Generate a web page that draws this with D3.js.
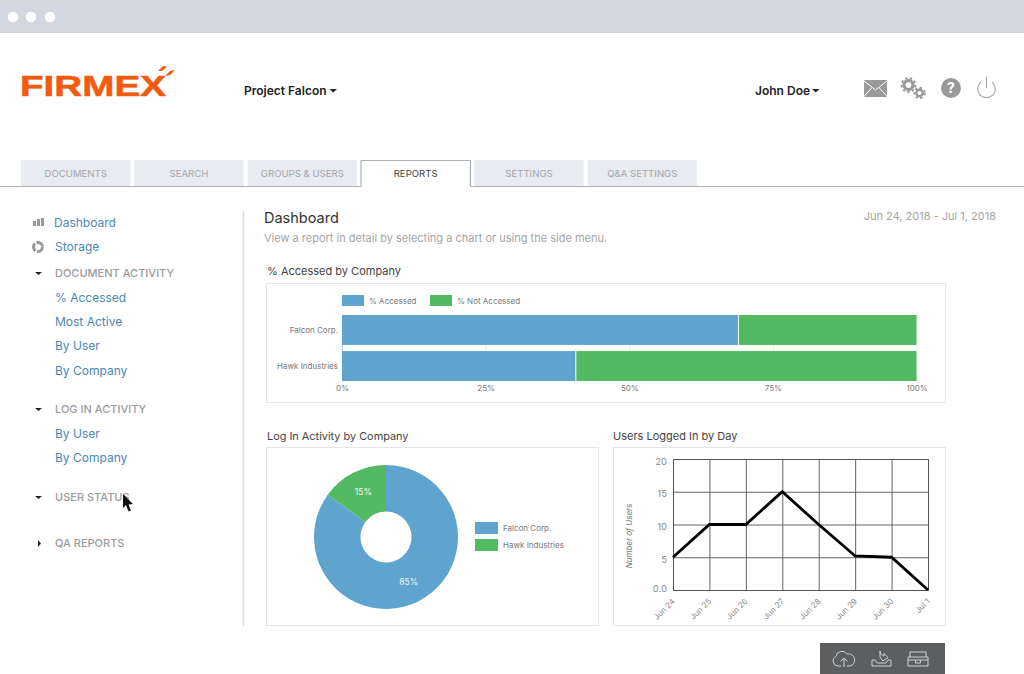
<!DOCTYPE html>
<html>
<head>
<meta charset="utf-8">
<script src="https://cdnjs.cloudflare.com/ajax/libs/d3/7.8.5/d3.min.js"></script>
<style>
    html, body { margin: 0; padding: 0; background: #fff; overflow: hidden; }
    svg { display: block; font-family: Inter, "Open Sans", sans-serif; }
</style>
</head>
<body>
<svg id="page" width="1024" height="674" viewBox="0 0 1024 674"></svg>
<script>
const BLUE = "#5fa3cf", GREEN = "#52ba62";

const tabs = ["DOCUMENTS", "SEARCH", "GROUPS & USERS", "REPORTS", "SETTINGS", "Q&A SETTINGS"];
const activeTab = "REPORTS";

const companies = ["Falcon Corp.", "Hawk Industries"];
const accessed = [69, 40.7];
const notAccessed = [31, 59.3];
const barLegend = ["% Accessed", "% Not Accessed"];
const barTicks = [0, 25, 50, 75, 100];

const loginShare = [85, 15];

const days = ["Jun 24", "Jun 25", "Jun 26", "Jun 27", "Jun 28", "Jun 29", "Jun 30", "Jul 1"];
const usersByDay = [5, 10, 10, 15, 10, 5.2, 5, 0];
const userTicks = [0, 5, 10, 15, 20];

const sideLinks = [["Dashboard", 54, 227], ["Storage", 55, 251], ["% Accessed", 55, 302], ["Most Active", 55, 326],
    ["By User", 55, 350], ["By Company", 55, 375], ["By User", 55, 438], ["By Company", 55, 462]];
const sideHeads = [["DOCUMENT ACTIVITY", 277, true], ["LOG IN ACTIVITY", 413, true], ["USER STATUS", 501, true], ["QA REPORTS", 547, false]];

const svg = d3.select("#page");

function label(g, x, y, txt, size, color, anchor, weight) {
    return g.append("text").attr("x", x).attr("y", y).text(txt)
        .attr("font-size", size).attr("fill", color)
        .attr("text-anchor", anchor || "start")
        .attr("font-weight", weight || 400);
}

// browser chrome
svg.append("rect").attr("width", 1024).attr("height", 33).attr("fill", "#d3d7df");
[13, 31, 50].forEach(x => svg.append("circle").attr("cx", x).attr("cy", 17).attr("r", 5.3).attr("fill", "#fff"));

// logo
const logo = svg.append("g").attr("fill", "#f15a0f");
logo.append("text").attr("x", 20).attr("y", 96).text("FIRMEX")
    .attr("font-family", "Liberation Sans").attr("font-weight", 700).attr("font-size", 29)
    .attr("stroke", "#f15a0f").attr("stroke-width", 0.5)
    .attr("textLength", 146).attr("lengthAdjust", "spacingAndGlyphs");
logo.append("path").attr("d", "M158 71 L163 66 L167 66.5 L162 71 Z");
logo.append("path").attr("d", "M165 76 L170 71 L175 70 L170 75 Z");
logo.append("path").attr("d", "M155 80 L159 76 L163 76 L158 80 Z");

// header
label(svg, 244, 95, "Project Falcon", 12, "#222", "start", 600);
label(svg, 755, 95, "John Doe", 12, "#222", "start", 600);
[[329.5, 89], [812, 89]].forEach(p => svg.append("path")
    .attr("d", `M${p[0]} ${p[1]} h7.5 l-3.75 3.5 Z`).attr("fill", "#222"));

const icons = svg.append("g").attr("fill", "#999");
icons.append("rect").attr("x", 864).attr("y", 80).attr("width", 23).attr("height", 17).attr("rx", 1);
icons.append("path").attr("d", "M864 81 L875.5 90 L887 81 M864 96.5 L872 87.5 M887 96.5 L879 87.5")
    .attr("fill", "none").attr("stroke", "#fff").attr("stroke-width", 1);
[[908.5, 85, 4.5, 3.2], [919.5, 93, 3.2, 2.4]].forEach(g => {
    icons.append("circle").attr("cx", g[0]).attr("cy", g[1]).attr("r", g[2]).attr("fill", "none")
        .attr("stroke", "#999").attr("stroke-width", g[3]);
    icons.append("circle").attr("cx", g[0]).attr("cy", g[1]).attr("r", g[2] + g[3] / 2 + 0.8).attr("fill", "none")
        .attr("stroke", "#999").attr("stroke-width", 2).attr("stroke-dasharray", "2.4 2.4");
});
icons.append("circle").attr("cx", 951).attr("cy", 88).attr("r", 10);
label(svg, 951, 93, "?", 14, "#fff", "middle", 700);
icons.append("path").attr("d", "M981 82 A8.8 8.8 0 1 0 992 82 M986.5 77 V88")
    .attr("fill", "none").attr("stroke", "#aaa").attr("stroke-width", 1.2);

// tabs
const tabX = d3.scaleBand().domain(tabs).range([21, 697]).paddingInner(0.035).paddingOuter(0);
svg.append("line").attr("x1", 0).attr("x2", 1024).attr("y1", 186.5).attr("y2", 186.5).attr("stroke", "#aeb1b5").attr("stroke-width", 1.2);
tabs.forEach(t => {
    const on = t === activeTab;
    svg.append("rect").attr("x", tabX(t)).attr("y", on ? 160.5 : 160).attr("width", tabX.bandwidth()).attr("height", on ? 27 : 26)
        .attr("fill", on ? "#fff" : "#e8ebf0");
    if (on) {
        svg.append("path").attr("d", `M${tabX(t)} 186.5 V160.5 H${tabX(t) + tabX.bandwidth()} V186.5`)
            .attr("fill", "none").attr("stroke", "#aeb1b5").attr("stroke-width", 1.2);
    }
    label(svg, tabX(t) + tabX.bandwidth() / 2, 177, t, 9.6, on ? "#444" : "#a3a6ab", "middle");
});

// side menu
sideLinks.forEach(d => label(svg, d[1], d[2], d[0], 12, "#4a88b5"));
sideHeads.forEach(d => {
    label(svg, 55, d[1], d[0], 11, "#9b9b9b", "start", 500);
    const y = d[1] - 4;
    svg.append("path").attr("fill", "#222")
        .attr("d", d[2] ? `M35 ${y - 1} h7 l-3.5 3 Z` : `M38 ${y - 3} v7 l3 -3.5 Z`);
});
[[33, 5], [37, 7], [41, 8]].forEach(b => svg.append("rect").attr("x", b[0]).attr("y", 226 - b[1])
    .attr("width", 3).attr("height", b[1]).attr("fill", "#999"));
svg.append("circle").attr("cx", 38).attr("cy", 247).attr("r", 4.5).attr("fill", "none")
    .attr("stroke", "#999").attr("stroke-width", 3).attr("stroke-dasharray", "8 1.5");
svg.append("line").attr("x1", 243.5).attr("x2", 243.5).attr("y1", 211).attr("y2", 626).attr("stroke", "#dcdcdc").attr("stroke-width", 1.5);
svg.append("path").attr("d", "M123 494 L123 508 L126 505 L128.5 511.5 L131 510.5 L128.5 504.5 L133 504 Z").attr("fill", "#111");

// page headings
label(svg, 264, 223, "Dashboard", 14.5, "#333");
label(svg, 264, 242, "View a report in detail by selecting a chart or using the side menu.", 11, "#a5a5a5");
label(svg, 996, 220, "Jun 24, 2018 - Jul 1, 2018", 11, "#a5a5a5", "end");
label(svg, 267, 275, "% Accessed by Company", 11, "#444");
label(svg, 267, 440, "Log In Activity by Company", 10.9, "#444");
label(svg, 613, 440, "Users Logged In by Day", 11, "#444");

[[266, 283, 679, 119], [266, 447, 332, 178], [613, 447, 332, 178]].forEach(p => svg.append("rect")
    .attr("x", p[0] + 0.5).attr("y", p[1] + 0.5).attr("width", p[2]).attr("height", p[3])
    .attr("fill", "#fff").attr("stroke", "#e6e6e6"));

// stacked bars
const x = d3.scaleLinear().domain([0, 100]).range([342, 916.5]);
const y = d3.scaleBand().domain(companies).range([315, 381]).paddingInner(0.17);
const barAxis = svg.append("g").attr("transform", "translate(0,381)")
    .call(d3.axisBottom(x).tickValues(barTicks).tickFormat(d => d + "%").tickSize(-67).tickPadding(4));
barAxis.select(".domain").remove();
barAxis.selectAll("line").attr("stroke", "#e8e8e8");
barAxis.selectAll("text").attr("font-size", 8).attr("fill", "#777").attr("font-family", "Inter");
const yAxis = svg.append("g").attr("transform", "translate(342,0)").call(d3.axisLeft(y).tickSize(0).tickPadding(4));
yAxis.select(".domain").attr("stroke", "#ccc");
yAxis.selectAll("text").attr("font-size", 8).attr("fill", "#777").attr("font-family", "Inter");

svg.append("g").selectAll("rect").data(companies).join("rect")
    .attr("x", x(0)).attr("y", d => y(d)).attr("height", y.bandwidth())
    .attr("width", (d, i) => x(accessed[i]) - x(0) - 0.5).attr("fill", BLUE);
svg.append("g").selectAll("rect").data(companies).join("rect")
    .attr("x", (d, i) => x(accessed[i]) + 0.5).attr("y", d => y(d)).attr("height", y.bandwidth())
    .attr("width", (d, i) => x(accessed[i] + notAccessed[i]) - x(accessed[i]) - 0.5).attr("fill", GREEN);

barLegend.forEach((d, i) => {
    const lx = 342 + i * 88;
    svg.append("rect").attr("x", lx).attr("y", 295).attr("width", 22).attr("height", 11).attr("fill", i ? GREEN : BLUE);
    label(svg, lx + 27, 304, d, 8, "#777");
});

// donut
const pie = d3.pie().sort(null);
const arc = d3.arc().innerRadius(25.5).outerRadius(72);
const donut = svg.append("g").attr("transform", "translate(386,537)");
const slices = pie(loginShare);
donut.selectAll("path").data(slices).join("path")
    .attr("d", arc).attr("fill", (d, i) => i ? GREEN : BLUE);
const labelArc = d3.arc().innerRadius(50).outerRadius(50);
donut.selectAll("text").data(slices).join("text")
    .attr("transform", d => {
        const c = labelArc.centroid(d);
        return `translate(${c[0]},${c[1]})`;
    })
    .attr("text-anchor", "middle").attr("dy", "0.35em")
    .attr("font-size", 8.5).attr("fill", "#f2f7f2")
    .text(d => d.data + "%");
companies.forEach((d, i) => {
    const ly = 522 + i * 17;
    svg.append("rect").attr("x", 475).attr("y", ly).attr("width", 23).attr("height", 12).attr("fill", i ? GREEN : BLUE);
    label(svg, 503, ly + 9, d, 8, "#777");
});

// line chart
const xDay = d3.scalePoint().domain(days).range([673, 928]);
const yUsers = d3.scaleLinear().domain([0, 20]).range([590, 459]);
const gridColor = "#555";
const dayAxis = svg.append("g").attr("transform", "translate(0,590)")
    .call(d3.axisBottom(xDay).tickSize(-131).tickPadding(5));
dayAxis.selectAll(".tick line").attr("stroke", gridColor).attr("stroke-width", 0.9);
dayAxis.select(".domain").attr("stroke", gridColor);
dayAxis.selectAll("text").attr("font-size", 8).attr("fill", "#8a8a8a").attr("font-family", "Inter")
    .attr("text-anchor", "end").attr("x", -7).attr("y", 7).attr("dy", "0.35em").attr("transform", "rotate(-45)");
const userAxis = svg.append("g").attr("transform", "translate(673,0)")
    .call(d3.axisLeft(yUsers).tickValues(userTicks).tickFormat(d => d === 0 ? "0.0" : d).tickSize(-255).tickPadding(6));
userAxis.selectAll(".tick line").attr("stroke", gridColor).attr("stroke-width", 0.9);
userAxis.select(".domain").attr("stroke", gridColor);
userAxis.selectAll("text").attr("font-size", 9.5).attr("fill", "#8a8a8a").attr("font-family", "Inter")
    .attr("y", d => d === 0 ? -2 : 2);
svg.append("path").datum(usersByDay)
    .attr("d", d3.line().x((d, i) => xDay(days[i])).y(d => yUsers(d)))
    .attr("fill", "none").attr("stroke", "#000").attr("stroke-width", 2.8);
svg.append("text").attr("transform", "translate(632,536) rotate(-90)").attr("text-anchor", "middle")
    .attr("font-size", 8).attr("font-style", "italic").attr("fill", "#777").text("Number of Users");

// bottom toolbar
svg.append("rect").attr("x", 820).attr("y", 643).attr("width", 125).attr("height", 31).attr("fill", "#5c5e60");
const tools = svg.append("g").attr("fill", "none").attr("stroke", "#d0d0d0").attr("stroke-width", 1);
tools.append("path").attr("d", "M841 666 H838 A5 5 0 0 1 836 656.5 A6 6 0 0 1 847 654 A5.5 5.5 0 0 1 850 666 H847 M844 667 V658 M840.5 661.5 L844 658 L847.5 661.5");
tools.append("path").attr("d", "M872 660 H875 L877 663 H886 L888 660 H891 V666 H872 Z M880 651 C880 654 882 655 884 656 V653.5 L888 657.5 L883 661 L880 657 Z");
tools.append("path").attr("d", "M908 657 H928 V666 H908 Z M910 657 V652 H926 V657 M908 660 H928 M915.5 660 V663 H920.5 V660");

</script>
</body>
</html>
